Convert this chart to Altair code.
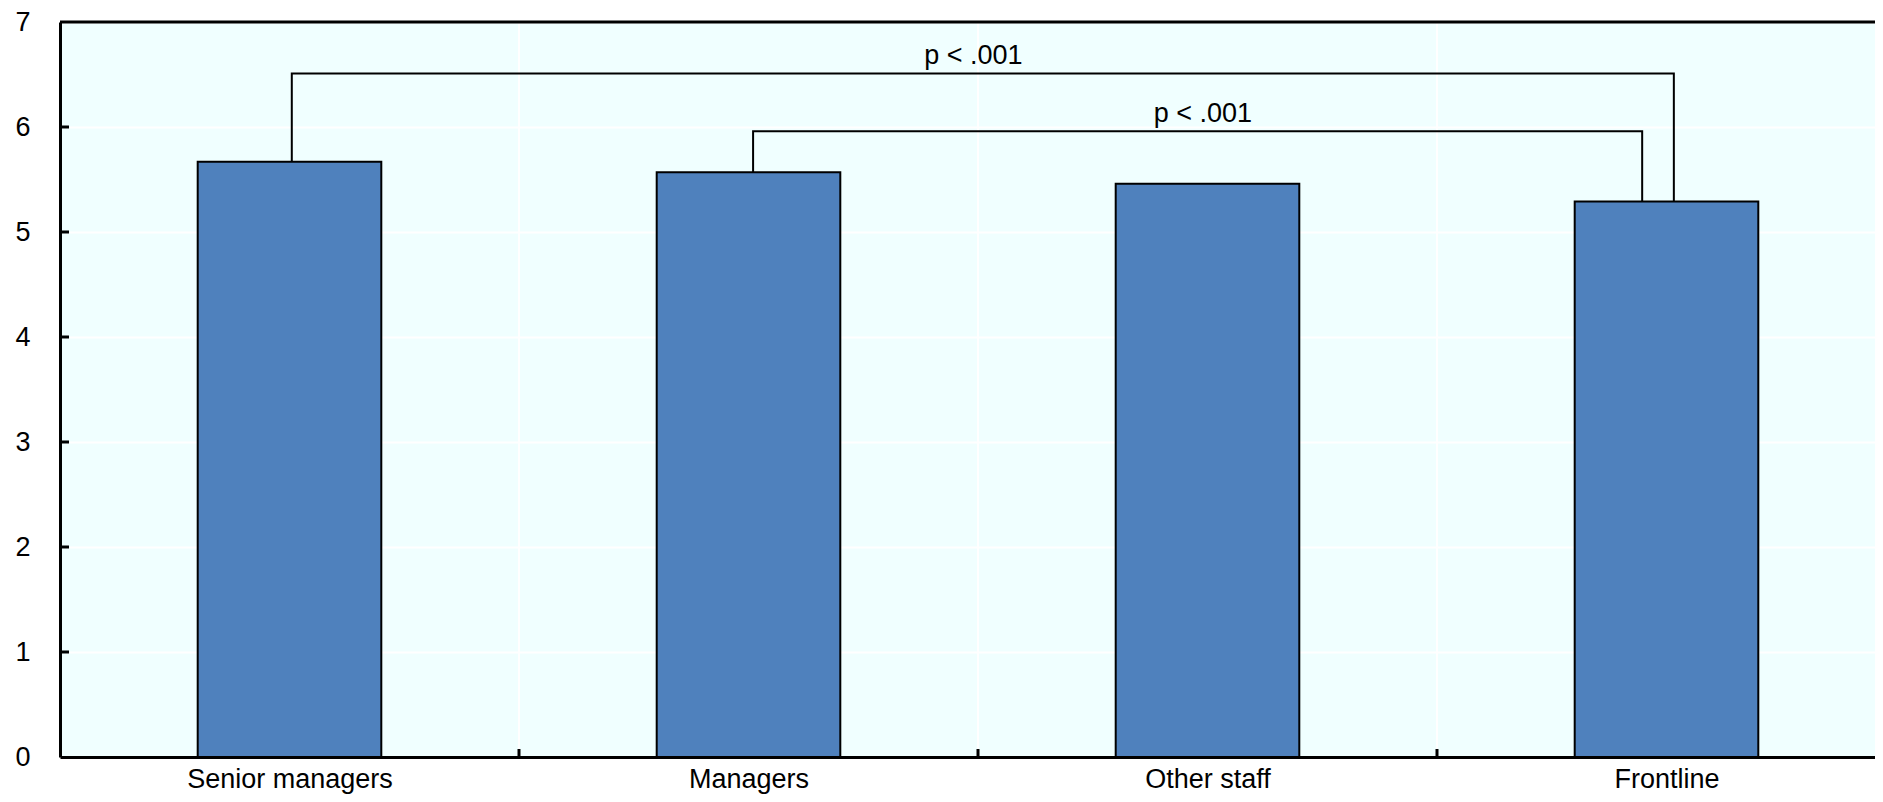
import json
import altair as alt
import pandas as pd

# ---- data ----
categories = ["Senior managers", "Managers", "Other staff", "Frontline"]
values = [5.67, 5.57, 5.46, 5.29]

bracket_labels = ["p < .001", "p < .001"]
bracket_from = ["Senior managers", "Managers"]
bracket_to = ["Frontline", "Frontline"]
bracket_level = [6.51, 5.96]
bracket_left_x = [0.505, 1.51]
bracket_right_x = [3.516, 3.447]
bracket_text_x = [1.99, 2.49]

y_ticks = [0, 1, 2, 3, 4, 5, 6, 7]
band_edges = [1, 2, 3]

# ---- tables ----
val_of = dict(zip(categories, values))
bars = pd.DataFrame({
    "cat": categories,
    "value": values,
    "lo": [i + 0.5 - 0.2 for i in range(len(categories))],
    "hi": [i + 0.5 + 0.2 for i in range(len(categories))],
})

rows = []
for b in range(len(bracket_labels)):
    pts = [
        (bracket_left_x[b], val_of[bracket_from[b]]),
        (bracket_left_x[b], bracket_level[b]),
        (bracket_right_x[b], bracket_level[b]),
        (bracket_right_x[b], val_of[bracket_to[b]]),
    ]
    for k, (x, y) in enumerate(pts):
        rows.append({"bracket": b, "order": k, "x": x, "y": y})
brackets = pd.DataFrame(rows)
btext = pd.DataFrame({"x": bracket_text_x, "y": bracket_level, "label": bracket_labels})

FONT = "Liberation Sans"
XMAX = 1815 / 459.0

xscale = alt.Scale(domain=[0, XMAX], nice=False, zero=False)
yscale = alt.Scale(domain=[0, 7], nice=False)

label_expr = json.dumps(categories) + "[floor(datum.value)]"

# vertical white gridlines at band edges
vgrid = alt.Chart(pd.DataFrame({"x": band_edges})).mark_rule(
    color="white", strokeWidth=2
).encode(
    x=alt.X("x:Q", scale=xscale,
            axis=alt.Axis(values=[0.5, 1.5, 2.5, 3.5], labelExpr=label_expr,
                          title=None, grid=False, ticks=False, tickSize=0,
                          domainColor="black", domainWidth=3, labelLimit=0,
                          labelFont=FONT, labelFontSize=27, labelColor="black",
                          labelPadding=9)),
    y=alt.datum(0, scale=yscale),
    y2=alt.datum(7),
)

bar_layer = alt.Chart(bars).mark_rect(
    color="#4F81BD", stroke="black", strokeWidth=2
).encode(
    x=alt.X("lo:Q", scale=xscale),
    x2="hi:Q",
    y=alt.Y("value:Q", scale=yscale,
            axis=alt.Axis(values=y_ticks, format="d", title=None, grid=True,
                          gridColor="white", gridWidth=2, ticks=False, tickSize=0,
                          domainColor="black", domainWidth=3,
                          labelFont=FONT, labelFontSize=27, labelColor="black",
                          labelPadding=30)),
    y2=alt.datum(0),
)

lines = alt.Chart(brackets).mark_line(color="black", strokeWidth=2).encode(
    x=alt.X("x:Q", scale=xscale),
    y=alt.Y("y:Q", scale=yscale),
    detail="bracket:N",
    order="order:Q",
)

texts = alt.Chart(btext).mark_text(
    font=FONT, fontSize=27, color="black", baseline="alphabetic", dy=-9
).encode(
    x=alt.X("x:Q", scale=xscale),
    y=alt.Y("y:Q", scale=yscale),
    text="label:N",
)

top_border = alt.Chart(pd.DataFrame({"y": [7]})).mark_rule(
    color="black", strokeWidth=3
).encode(
    y=alt.Y("y:Q", scale=yscale),
    x=alt.datum(0, scale=xscale),
    x2=alt.datum(XMAX),
)

ytick_marks = alt.Chart(pd.DataFrame({"y": y_ticks[1:-1]})).mark_rule(
    color="black", strokeWidth=3
).encode(
    y=alt.Y("y:Q", scale=yscale),
    x=alt.datum(0, scale=xscale),
    x2=alt.datum(9 / 459.0),
)

xtick_marks = alt.Chart(pd.DataFrame({"x": band_edges})).mark_rule(
    color="black", strokeWidth=3
).encode(
    x=alt.X("x:Q", scale=xscale),
    y=alt.datum(0, scale=yscale),
    y2=alt.datum(8 / 105.0),
)

chart = alt.layer(
    vgrid, bar_layer, lines, texts, top_border, ytick_marks, xtick_marks
).properties(
    width=1815, height=735,
    padding={"left": 52, "top": 14, "right": 0, "bottom": 40},
    autosize=alt.AutoSizeParams(type="none"),
    background="white",
).configure_view(
    fill="#F0FFFF", stroke=None
)

chart.save("out.html", embed_options={"renderer": "svg", "actions": False})
